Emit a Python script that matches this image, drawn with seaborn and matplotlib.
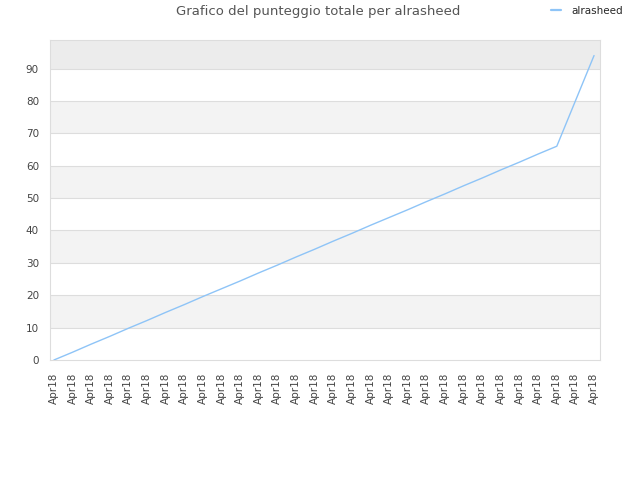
import matplotlib
matplotlib.use("Agg")
import matplotlib.pyplot as plt
import seaborn as sns
import pandas as pd

player = "alrasheed"
title = "Grafico del punteggio totale per alrasheed"
date_labels = ["Apr18"] * 30
scores = [0.0, 2.4, 4.9, 7.3, 9.8, 12.2, 14.7, 17.1, 19.6, 22.0,
          24.4, 26.9, 29.3, 31.8, 34.2, 36.7, 39.1, 41.6, 44.0, 46.4,
          48.9, 51.3, 53.8, 56.2, 58.7, 61.1, 63.6, 66.0, 80.0, 94.0]
yticks = [0, 10, 20, 30, 40, 50, 60, 70, 80, 90]
ymax = 98.8

sns.set_style("white")
plt.rcParams['font.family'] = ['DejaVu Sans']

fig = plt.figure(figsize=(6.4, 4.8), dpi=100)
ax = fig.add_axes([50 / 640, 120 / 480, 550 / 640, 320 / 480])

df = pd.DataFrame({"idx": list(range(len(scores))), "score": scores,
                   "player": [player] * len(scores)})

# alternating bands
for i, lo in enumerate(yticks):
    hi = min(lo + 10, ymax)
    if lo == yticks[-1]:
        ax.axhspan(lo, hi, color="#ececec", lw=0, zorder=0)
    elif i % 2 == 1:
        ax.axhspan(lo, hi, color="#f3f3f3", lw=0, zorder=0)
for y in yticks[1:]:
    ax.axhline(y, color="#dddddd", lw=0.8, zorder=1)

sns.lineplot(data=df, x="idx", y="score", hue="player", palette=["#8ec4f7"],
             lw=1.0, ax=ax, zorder=3)

ax.set_xlim(-0.21, len(scores) - 1 + 0.32)
ax.set_ylim(0, ymax)
ax.set_yticks(yticks)
ax.set_yticklabels([str(v) for v in yticks])
ax.set_xticks(list(range(len(date_labels))))
ax.set_xticklabels(date_labels, rotation=90, ha="center")
ax.tick_params(axis="both", length=0, labelsize=7.5, labelcolor="#444444")
ax.tick_params(axis="y", pad=8)
ax.tick_params(axis="x", pad=9)
ax.set_xlabel("")
ax.set_ylabel("")
for s in ax.spines.values():
    s.set_color("#dddddd")
    s.set_linewidth(0.8)

handles, labels = ax.get_legend_handles_labels()
leg = ax.legend(handles, labels, loc="upper right", bbox_to_anchor=(623 / 640, 1 - 6 / 480),
                bbox_transform=fig.transFigure, frameon=False, fontsize=7.5,
                handlelength=1.0, handletextpad=0.95, borderpad=0, borderaxespad=0)
for h in leg.get_lines():
    h.set_linewidth(1.6)

fig.text(318 / 640, 1 - 12 / 480, title, ha="center", va="center",
         fontsize=9.5, color="#555555")

fig.savefig("out.png", dpi=100)
